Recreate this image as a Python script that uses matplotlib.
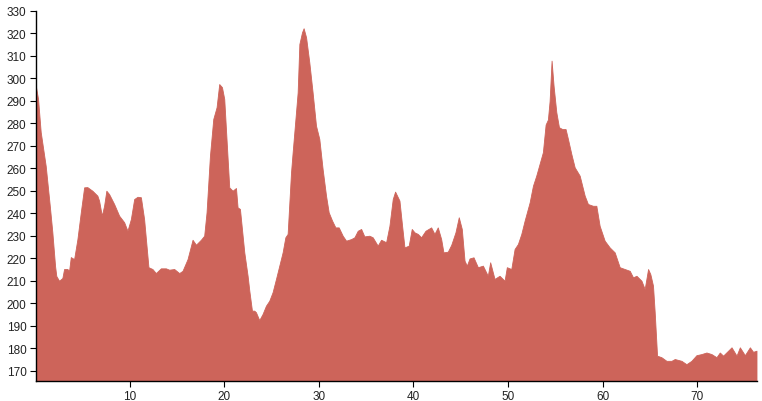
import matplotlib
matplotlib.use("Agg")
import matplotlib.pyplot as plt

# distance (km) along the route and elevation (m)
dist = [0.05, 0.32, 0.60, 1.13, 1.56, 1.83, 2.12, 2.25, 2.54, 2.89, 3.07, 3.42, 3.60, 3.78,
        4.13, 4.48, 4.84, 5.19, 5.53, 6.06, 6.59, 6.77, 7.06, 7.30, 7.54, 7.83, 8.36, 8.89,
        9.42, 9.77, 10.13, 10.48, 10.83, 11.19, 11.53, 11.99, 12.41, 12.77, 13.30, 13.83,
        14.18, 14.71, 15.24, 15.59, 16.12, 16.65, 17.01, 17.53, 17.88, 18.13, 18.49, 18.84,
        19.19, 19.47, 19.76, 20.00, 20.24, 20.53, 20.88, 21.24, 21.41, 21.66, 22.12, 22.47,
        22.65, 22.93, 23.17, 23.35, 23.70, 24.05, 24.41, 24.76, 25.11, 25.47, 25.82, 26.17,
        26.46, 26.70, 27.06, 27.23, 27.48, 27.76, 27.94, 28.22, 28.39, 28.65, 28.99, 29.34,
        29.70, 30.05, 30.40, 30.76, 31.04, 31.40, 31.75, 32.10, 32.52, 32.88, 33.41, 33.76,
        34.11, 34.47, 34.81, 35.34, 35.69, 36.22, 36.58, 37.11, 37.46, 37.81, 38.06, 38.52,
        38.80, 39.05, 39.50, 39.82, 40.11, 40.46, 40.81, 41.27, 41.87, 42.22, 42.57, 42.93,
        43.17, 43.63, 43.99, 44.44, 44.79, 45.11, 45.40, 45.64, 45.93, 46.35, 46.81, 47.34,
        47.86, 48.11, 48.57, 49.10, 49.63, 49.87, 50.34, 50.69, 51.04, 51.40, 51.75, 52.28,
        52.63, 52.98, 53.33, 53.68, 53.97, 54.21, 54.39, 54.60, 54.81, 55.10, 55.38, 55.73,
        56.08, 56.33, 56.69, 57.04, 57.57, 58.10, 58.44, 58.97, 59.33, 59.68, 60.21, 60.74,
        61.27, 61.80, 62.33, 62.86, 63.21, 63.57, 64.10, 64.44, 64.80, 65.04, 65.32, 65.50,
        65.75, 66.21, 66.74, 67.27, 67.62, 68.33, 68.85, 69.38, 69.91, 70.44, 70.97, 71.50,
        72.03, 72.38, 72.73, 73.26, 73.62, 74.15, 74.50, 75.03, 75.56, 75.90, 76.26]

elev = [297.4, 290.8, 276.1, 261.0, 243.3, 231.6, 216.5, 212.1, 210.0, 211.2, 215.2, 215.2, 214.4, 220.5,
        219.6, 228.5, 240.5, 251.5, 251.6, 250.0, 247.8, 245.6, 238.9, 243.3, 250.0, 248.5, 244.1, 238.9,
        236.0, 232.2, 237.4, 246.3, 247.3, 247.1, 237.4, 216.0, 215.2, 213.4, 215.5, 215.5,
        214.9, 215.2, 213.4, 214.4, 219.6, 228.2, 226.0, 228.2, 230.0, 240.4, 265.6, 281.9,
        287.1, 297.4, 296.0, 290.8, 273.0, 251.5, 250.0, 251.2, 242.6, 241.9, 222.6, 212.2,
        205.6, 196.7, 196.7, 196.0, 192.5, 195.2, 198.9, 201.1, 204.9, 210.8, 216.7, 222.6,
        229.3, 230.8, 258.2, 267.1, 279.6, 293.7, 315.2, 320.4, 322.2, 318.2, 307.1, 293.7,
        278.9, 273.0, 259.6, 247.8, 240.4, 236.7, 233.7, 233.7, 230.0, 227.8, 228.5, 229.3,
        232.2, 233.0, 229.7, 230.0, 229.3, 225.6, 228.2, 227.1, 234.4, 246.3, 249.6, 245.6,
        234.4, 224.8, 225.6, 233.0, 231.5, 230.8, 229.3, 232.2, 233.7, 230.8, 233.7, 228.5,
        222.6, 222.9, 225.9, 231.5, 238.2, 233.0, 218.9, 216.7, 219.9, 220.4, 216.0, 216.7,
        212.2, 218.2, 210.8, 212.2, 210.0, 216.0, 215.2, 224.1, 226.3, 230.8, 236.7, 244.8,
        252.2, 256.7, 261.9, 267.1, 279.4, 281.6, 289.8, 307.8, 296.7, 284.9, 278.2, 277.4,
        277.4, 273.0, 266.3, 260.4, 256.7, 247.8, 244.1, 243.3, 243.3, 234.4, 227.8, 224.8,
        222.6, 216.0, 215.2, 214.4, 211.5, 212.2, 210.0, 206.3, 215.2, 212.9, 207.8, 196.0,
        176.7, 176.0, 174.4, 174.4, 175.2, 174.4, 172.9, 174.4, 176.9, 177.4, 178.1, 177.4,
        176.0, 178.1, 176.7, 178.9, 180.4, 176.7, 180.4, 176.9, 180.4, 178.4, 178.9]

xticks = [10, 20, 30, 40, 50, 60, 70]
yticks = list(range(170, 331, 10))
ymin, ymax = 165.3, 330

fig = plt.figure(figsize=(7.62, 4.02), dpi=100)
ax = fig.add_axes([35.5 / 762, 1 - 382.3 / 402, (756.5 - 35.5) / 762, (382.3 - 11.7) / 402])

ax.fill_between(dist, elev, ymin, color="#cd645a", linewidth=0.6, edgecolor="#cd645a")

ax.set_xlim(dist[0], dist[-1])
ax.set_ylim(ymin, ymax)
ax.set_xticks(xticks)
ax.set_yticks(yticks)

for s in ["top", "right"]:
    ax.spines[s].set_visible(False)
for s in ["left", "bottom"]:
    ax.spines[s].set_color("#000000")
    ax.spines[s].set_linewidth(1.0)

ax.tick_params(axis="both", direction="out", length=4.5, width=0.8, color="#000000",
               labelsize=8.5, labelcolor="#222222", pad=2)
for lab in ax.get_xticklabels() + ax.get_yticklabels():
    lab.set_fontfamily("Liberation Sans")

fig.savefig("out.png", dpi=100)
